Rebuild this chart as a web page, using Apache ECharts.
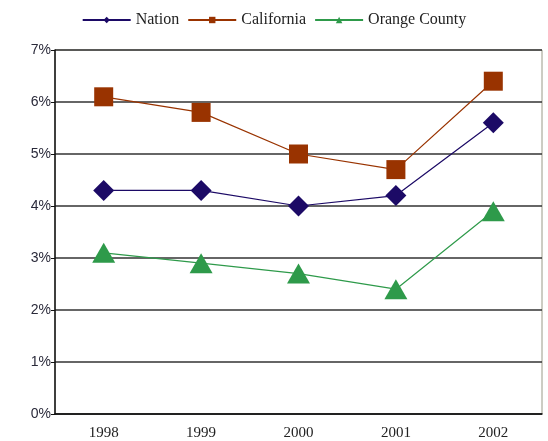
<!DOCTYPE html>
<html>
<head>
<meta charset="utf-8">
<script src="https://cdn.jsdelivr.net/npm/echarts@6/dist/echarts.min.js"></script>
<style>
  html, body { margin: 0; padding: 0; background: #fff; }
  #chart { width: 548px; height: 441px; }
</style>
</head>
<body>
<div id="chart"></div>
<script>
const years = ['1998', '1999', '2000', '2001', '2002']
const nation = [4.3, 4.3, 4.0, 4.2, 5.6]
const california = [6.1, 5.8, 5.0, 4.7, 6.4]
const orangeCounty = [3.1, 2.9, 2.7, 2.4, 3.9]

const serif = 'Liberation Serif'

const myChart = echarts.init(document.getElementById('chart'))
const option = {
  animation: false,
  legend: {
    top: 7,
    left: 'center',
    itemWidth: 48,
    itemHeight: 8,
    itemGap: 8,
    textStyle: { fontFamily: serif, fontSize: 16, color: '#222' },
    data: ['Nation', 'California', 'Orange County']
  },
  grid: {
    left: 55,
    right: 6,
    top: 50,
    bottom: 27,
    show: true,
    borderColor: '#9a9a88',
    borderWidth: 1
  },
  xAxis: {
    type: 'category',
    data: years,
    axisLine: { lineStyle: { color: '#111', width: 1.5 } },
    axisTick: { length: 5, lineStyle: { color: '#111' } },
    axisLabel: { fontFamily: serif, fontSize: 15, color: '#222', margin: 12 }
  },
  yAxis: {
    type: 'value',
    min: 0,
    max: 7,
    interval: 1,
    axisLine: { show: true, lineStyle: { color: '#111', width: 1.5 } },
    axisTick: { show: true, length: 4, lineStyle: { color: '#111' } },
    axisLabel: { formatter: '{value}%', fontFamily: 'Liberation Sans', fontSize: 14, color: '#2a2a3a', margin: 4 },
    splitLine: { lineStyle: { color: '#333', width: 1.5 } }
  },
  series: [{
    name: 'Nation',
    type: 'line',
    data: nation,
    symbol: 'diamond',
    symbolSize: [21, 21],
    color: '#1c0a66',
    lineStyle: { width: 1.2 }
  }, {
    name: 'California',
    type: 'line',
    data: california,
    symbol: 'rect',
    symbolSize: [19, 19],
    color: '#993300',
    lineStyle: { width: 1.2 }
  }, {
    name: 'Orange County',
    type: 'line',
    data: orangeCounty,
    symbol: 'triangle',
    symbolSize: [23, 20],
    color: '#2e9a4a',
    lineStyle: { width: 1.2 }
  }]
}
myChart.setOption(option)
</script>
</body>
</html>
